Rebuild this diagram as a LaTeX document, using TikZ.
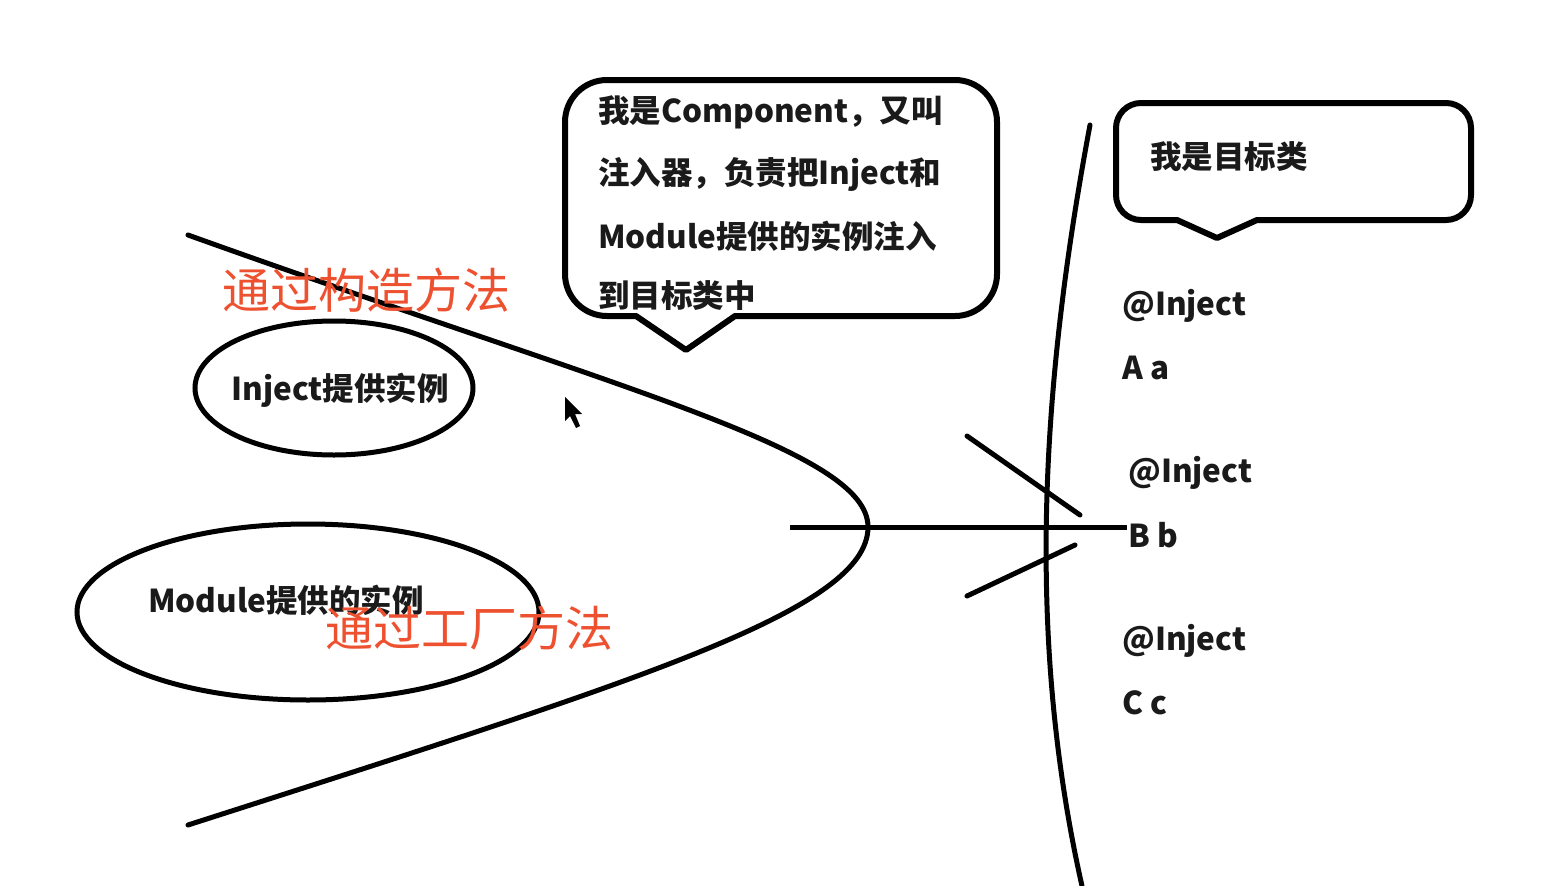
\documentclass[tikz,border=0pt]{standalone}
\usepackage{fontspec}
\setmainfont{Noto Sans CJK SC}
\usetikzlibrary{shapes.geometric}
\definecolor{redtxt}{HTML}{EE5130}
\definecolor{inktxt}{HTML}{1A1A1A}
\tikzset{
  stroke/.style={line width=5pt, line cap=round, line join=round},
  bubble/.style={line width=6pt, line join=round},
  oval/.style={ellipse, draw, line width=5pt, inner sep=0pt},
  blk/.style={font=\bfseries\fontsize{31.5}{36}\selectfont, inner sep=0pt, anchor=west, text=inktxt},
  redlbl/.style={font=\fontsize{48}{56}\selectfont, text=redtxt, inner sep=0pt, anchor=west},
}
\begin{document}
\begin{tikzpicture}[x=1pt,y=1pt]
\useasboundingbox (0,0) rectangle (1566,-886);
\fill[white] (0,0) rectangle (1566,-886);

% parabola-like curve
\coordinate (pA) at (188,-235);
\coordinate (pV) at (868,-527);
\coordinate (pB) at (188,-825);
\draw[stroke] (pA) .. controls (620,-390) and (868,-450) .. (pV)
              .. controls (868,-610) and (640,-680) .. (pB);

% vertical curve
\coordinate (vT) at (1090,-125);
\coordinate (vB) at (1082,-886);
\draw[stroke] (vT) .. controls (1046,-360) and (1022,-620) .. (vB);

% horizontal line and strokes
\coordinate (h1) at (790,-527);
\coordinate (h2) at (1127,-527);
\draw[stroke, line cap=butt] (h1) -- (h2);
\coordinate (s1a) at (967,-436);
\coordinate (s1b) at (1080,-515);
\coordinate (s2a) at (967,-596);
\coordinate (s2b) at (1075,-545);
\draw[stroke] (s1a) -- (s1b);
\draw[stroke] (s2a) -- (s2b);

% ellipses
\node[oval, minimum width=278, minimum height=134] (e1) at (334,-388) {};
\node[oval, minimum width=462, minimum height=176] (e2) at (308,-612) {};
\node[blk, anchor=center] (t1) at (340,-390) {Inject提供实例};
\node[blk] (t2) at (148,-600) {Module提供的实例};

% red labels
\node[redlbl] (r1) at (222,-290) {通过构造方法};
\node[redlbl] (r2) at (325,-628) {通过工厂方法};

% bubble 1
\draw[bubble] (607,-80) -- (955,-80) arc[start angle=90,end angle=0,radius=42pt]
  -- (997,-274) arc[start angle=0,end angle=-90,radius=42pt]
  -- (735,-316) -- (686,-350) -- (636,-316) -- (607,-316)
  arc[start angle=270,end angle=180,radius=42pt]
  -- (565,-122) arc[start angle=180,end angle=90,radius=42pt] -- cycle;
\node[blk] (c1) at (598,-112) {我是Component，又叫};
\node[blk] (c2) at (598,-174) {注入器，负责把Inject和};
\node[blk] (c3) at (598,-236) {Module提供的实例注入};
\node[blk] (c4) at (598,-296) {到目标类中};

% bubble 2
\draw[bubble] (1141,-103) -- (1446,-103) arc[start angle=90,end angle=0,radius=25pt]
  -- (1471,-195) arc[start angle=0,end angle=-90,radius=25pt]
  -- (1257,-220) -- (1217,-238) -- (1177,-220) -- (1141,-220)
  arc[start angle=270,end angle=180,radius=25pt]
  -- (1116,-128) arc[start angle=180,end angle=90,radius=25pt] -- cycle;
\node[blk] (tg) at (1150,-157) {我是目标类};

% right side fields
\node[blk] (i1) at (1122,-306) {@Inject};
\node[blk] (f1) at (1122,-368) {A a};
\node[blk] (i2) at (1128,-473) {@Inject};
\node[blk] (f2) at (1128,-535) {B b};
\node[blk] (i3) at (1122,-641) {@Inject};
\node[blk] (f3) at (1122,-703) {C c};

% mouse pointer
\fill[black] (565,-397) -- (565,-421) -- (570,-416) -- (576,-428) -- (580,-426)
  -- (575,-414) -- (582,-414) -- cycle;
\end{tikzpicture}
\end{document}
